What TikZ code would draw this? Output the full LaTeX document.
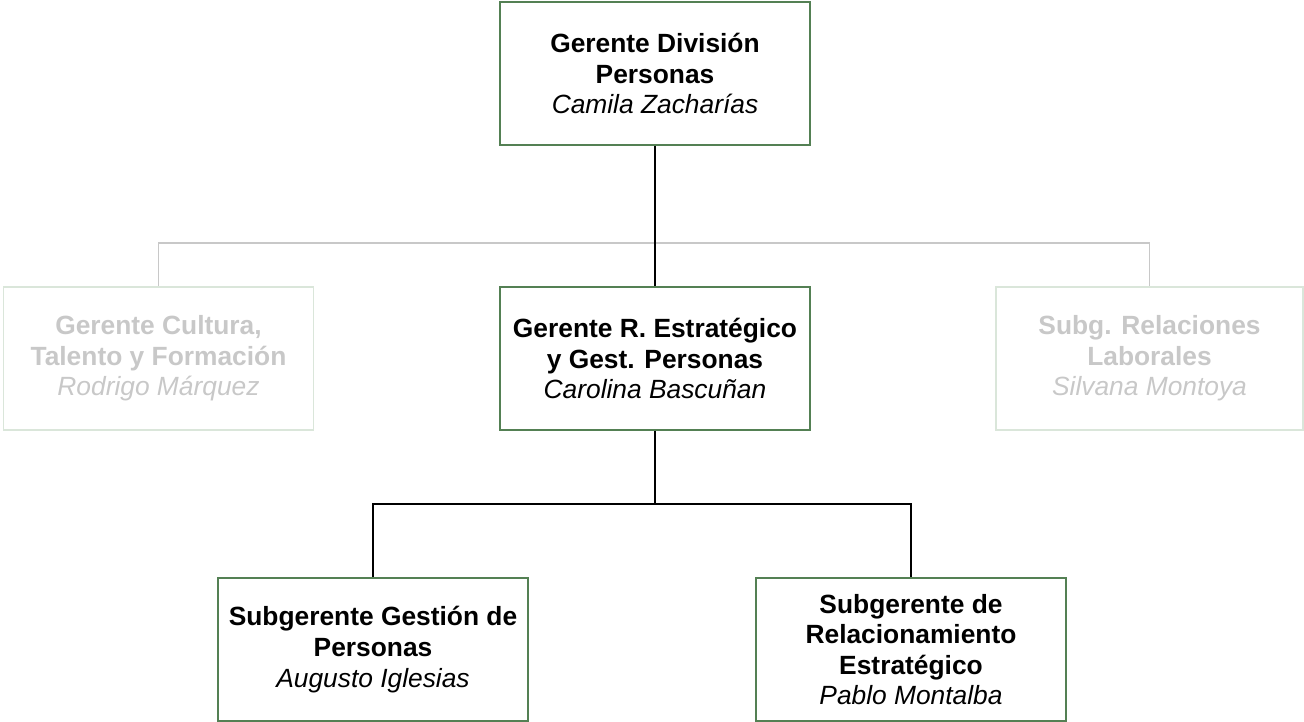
\documentclass[tikz,border=0pt]{standalone}
\usepackage{fontspec}
\setmainfont{Liberation Sans}
\definecolor{verde}{RGB}{84,128,84}
\definecolor{verdeclaro}{RGB}{218,230,218}
\definecolor{gristexto}{RGB}{200,200,200}
\begin{document}
\begin{tikzpicture}[x=0.02cm, y=-0.02cm,
	cargo/.style={draw=verde, line width=0.8pt, rectangle, minimum width=6.2cm, minimum height=2.86cm, inner sep=0pt, align=center, font=\fontsize{15}{17.4}\selectfont},
	inactivo/.style={cargo, draw=verdeclaro, text=gristexto},
	linea/.style={black, line width=0.95pt},
	lineagris/.style={gristexto, line width=0.95pt}]
	\useasboundingbox (0, 0) rectangle (1304, 722);

	\node[cargo] at (655, 73.5) (division) {\textbf{Gerente División}\\\textbf{Personas}\\\textit{Camila Zacharías}};
	\node[cargo] at (655, 358.5) (estrategico) {\textbf{Gerente R. Estratégico}\\\textbf{y Gest. Personas}\\\textit{Carolina Bascuñan}};
	\node[inactivo] at (158.5, 358.5) (cultura) {\textbf{Gerente Cultura,}\\\textbf{Talento y Formación}\\\textit{Rodrigo Márquez}};
	\node[inactivo, minimum width=6.14cm] at (1149.5, 358.5) (laborales) {\textbf{Subg. Relaciones}\\\textbf{Laborales}\\\textit{Silvana Montoya}};

	\node[cargo] at (373, 649.5) (gestion) {\textbf{Subgerente Gestión de}\\\textbf{Personas}\\\textit{Augusto Iglesias}};
	\node[cargo] at (911, 649.5) (relacionamiento) {\textbf{Subgerente de}\\\textbf{Relacionamiento}\\\textbf{Estratégico}\\\textit{Pablo Montalba}};

	\coordinate (ramal) at (655, 243);
	\coordinate (bus) at (655, 504);

	\draw[lineagris] (ramal) -| (cultura.north);
	\draw[lineagris] (ramal) -| (laborales.north);

	\path
	(division) edge[linea] (estrategico)
	(estrategico) edge[linea] (bus);
	\draw[linea] (bus) -| (gestion.north);
	\draw[linea] (bus) -| (relacionamiento.north);
\end{tikzpicture}
\end{document}
